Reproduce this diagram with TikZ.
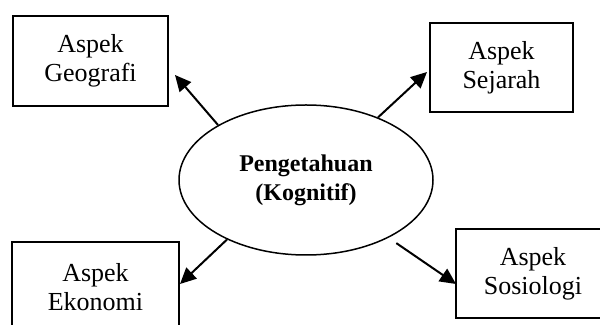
\documentclass[tikz,border=0pt]{standalone}
\usepackage{fontspec}
\setmainfont{Liberation Serif}
\usetikzlibrary{shapes.geometric,arrows.meta}
\tikzset{
  aspect/.style={draw, line width=1pt, align=center, inner sep=0pt,
    font=\fontsize{13}{14.5}\selectfont},
  core/.style={draw, ellipse, line width=0.75pt, inner sep=0pt,
    minimum width=127pt, minimum height=75pt, align=center,
    font=\fontsize{12}{14.5}\selectfont\bfseries},
  arr/.style={line width=1pt, -{Triangle[length=8pt,width=7.5pt]}}
}
\begin{document}
\begin{tikzpicture}[x=0.5pt,y=-0.5pt]
\useasboundingbox (0,0) rectangle (600,325);
\clip (0,0) rectangle (600,325);
\node[core] (ell) at (306,180) {Pengetahuan\\(Kognitif)};
\node[aspect, minimum width=77.5pt, minimum height=45pt] (geo) at (90.5,61) {Aspek\\Geografi};
\node[aspect, minimum width=71.5pt, minimum height=44.5pt] (sej) at (501.5,67.5) {Aspek\\Sejarah};
\node[aspect, minimum width=83.5pt, minimum height=45pt] (eko) at (95.5,287) {Aspek\\Ekonomi};
\node[aspect, minimum width=77pt, minimum height=44.5pt] (sos) at (533,273.5) {Aspek\\Sosiologi};
\coordinate (tgeo) at (175,75);
\coordinate (tsej) at (427,72);
\coordinate (teko) at (180,284);
\coordinate (tsos) at (456,284);
\draw[arr] (ell.148.6) -- (tgeo);
\draw[arr] (ell.41.1) -- (tsej);
\draw[arr] (ell.217.3) -- (teko);
\draw[arr, shorten <=4.7pt] (ell.325.7) -- (tsos);
\end{tikzpicture}
\end{document}
